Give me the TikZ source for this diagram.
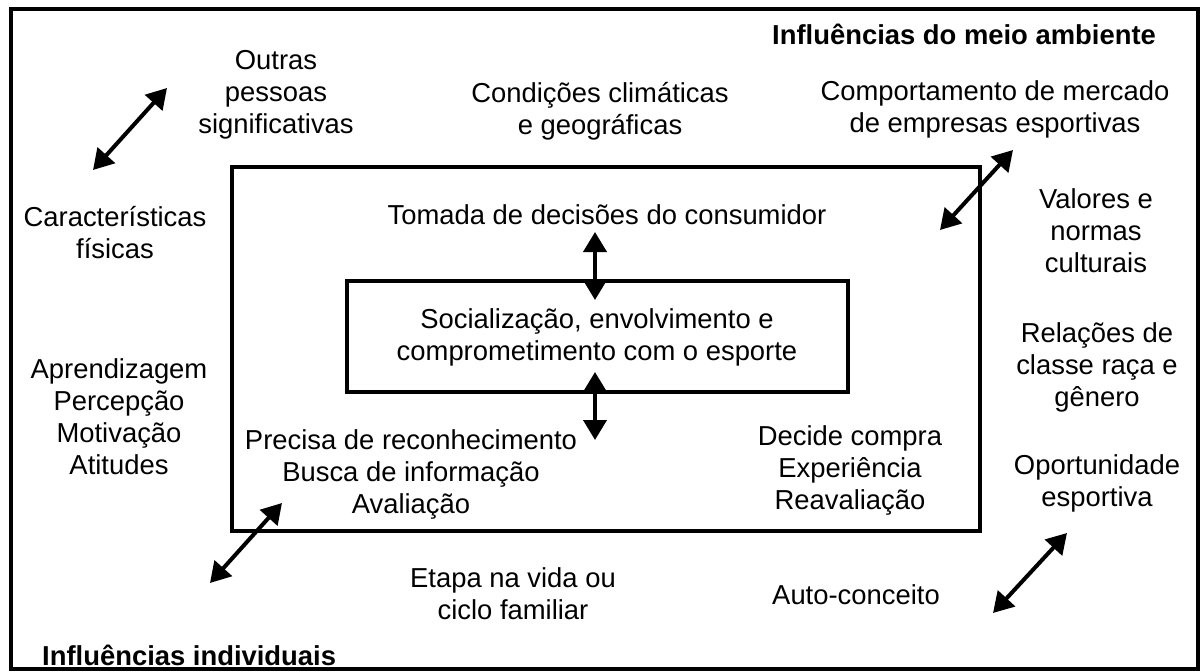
\documentclass[tikz,border=0pt]{standalone}
\usepackage{fontspec}
\setmainfont{Liberation Sans}
\usepackage{tikz}
\usetikzlibrary{arrows.meta}

\begin{document}
\begin{tikzpicture}[x=1pt, y=-1pt,
        testo/.style={align=center, inner sep=0pt, font=\fontsize{27.4}{32}\selectfont},
        titolo/.style={inner sep=0pt, font=\fontsize{27.4}{32}\selectfont\bfseries},
        cornice/.style={draw, line width=4.5pt, inner sep=0pt},
        freccia/.style={line width=4pt, {Triangle[length=20pt,width=23pt]}-{Triangle[length=20pt,width=23pt]}}]
        \useasboundingbox (0,0) rectangle (1203,672);

        % Riquadri
        \node[cornice, minimum width=1187pt, minimum height=660pt] (esterno) at (604.5,339) {};
        \node[cornice, minimum width=748pt, minimum height=364pt] (decisione) at (606,349) {};
        \node[cornice, minimum width=501pt, minimum height=111pt] (centro) at (597.5,336.5) {};

        % Titoli
        \node[titolo, anchor=west] (ambiente) at (772,34) {Influências do meio ambiente};
        \node[titolo, anchor=west] (individuali) at (42,655) {Influências individuais};

        % Influenze esterne
        \node[testo] (outras) at (276,95) {Outras\\pessoas\\significativas};
        \node[testo] (clima) at (600,111) {Condições climáticas\\e geográficas};
        \node[testo] (mercado) at (995,109) {Comportamento de mercado\\de empresas esportivas};
        \node[testo] (fisicas) at (115,233) {Características\\físicas};
        \node[testo] (aprend) at (119,417) {Aprendizagem\\Percepção\\Motivação\\Atitudes};
        \node[testo] (valores) at (1096,231) {Valores e\\normas\\culturais};
        \node[testo] (relacoes) at (1097,367) {Relações de\\classe raça e\\gênero};
        \node[testo] (oport) at (1097,483) {Oportunidade\\esportiva};
        \node[testo] (etapa) at (513,594) {Etapa na vida ou\\ciclo familiar};
        \node[testo] (auto) at (856,595) {Auto-conceito};

        % Processo
        \node[testo] (tomada) at (607,215) {Tomada de decisões do consumidor};
        \node[testo] (social) at (597,337) {Socialização, envolvimento e\\comprometimento com o esporte};
        \node[testo] (precisa) at (411,474) {Precisa de reconhecimento\\Busca de informação\\Avaliação};
        \node[testo] (decide) at (850,470) {Decide compra\\Experiência\\Reavaliação};

        % Frecce
        \coordinate (a1) at (93,170);  \coordinate (b1) at (167,88);
        \coordinate (a2) at (210,583); \coordinate (b2) at (282,503);
        \coordinate (a3) at (940,230); \coordinate (b3) at (1013,150);
        \coordinate (a4) at (993,613); \coordinate (b4) at (1067,533);
        \coordinate (a5) at (595,232); \coordinate (b5) at (595,300);
        \coordinate (a6) at (595,372); \coordinate (b6) at (595,440);
        \foreach \i in {1,...,6}
            \draw[freccia] (a\i) -- (b\i);
    \end{tikzpicture}
\end{document}
